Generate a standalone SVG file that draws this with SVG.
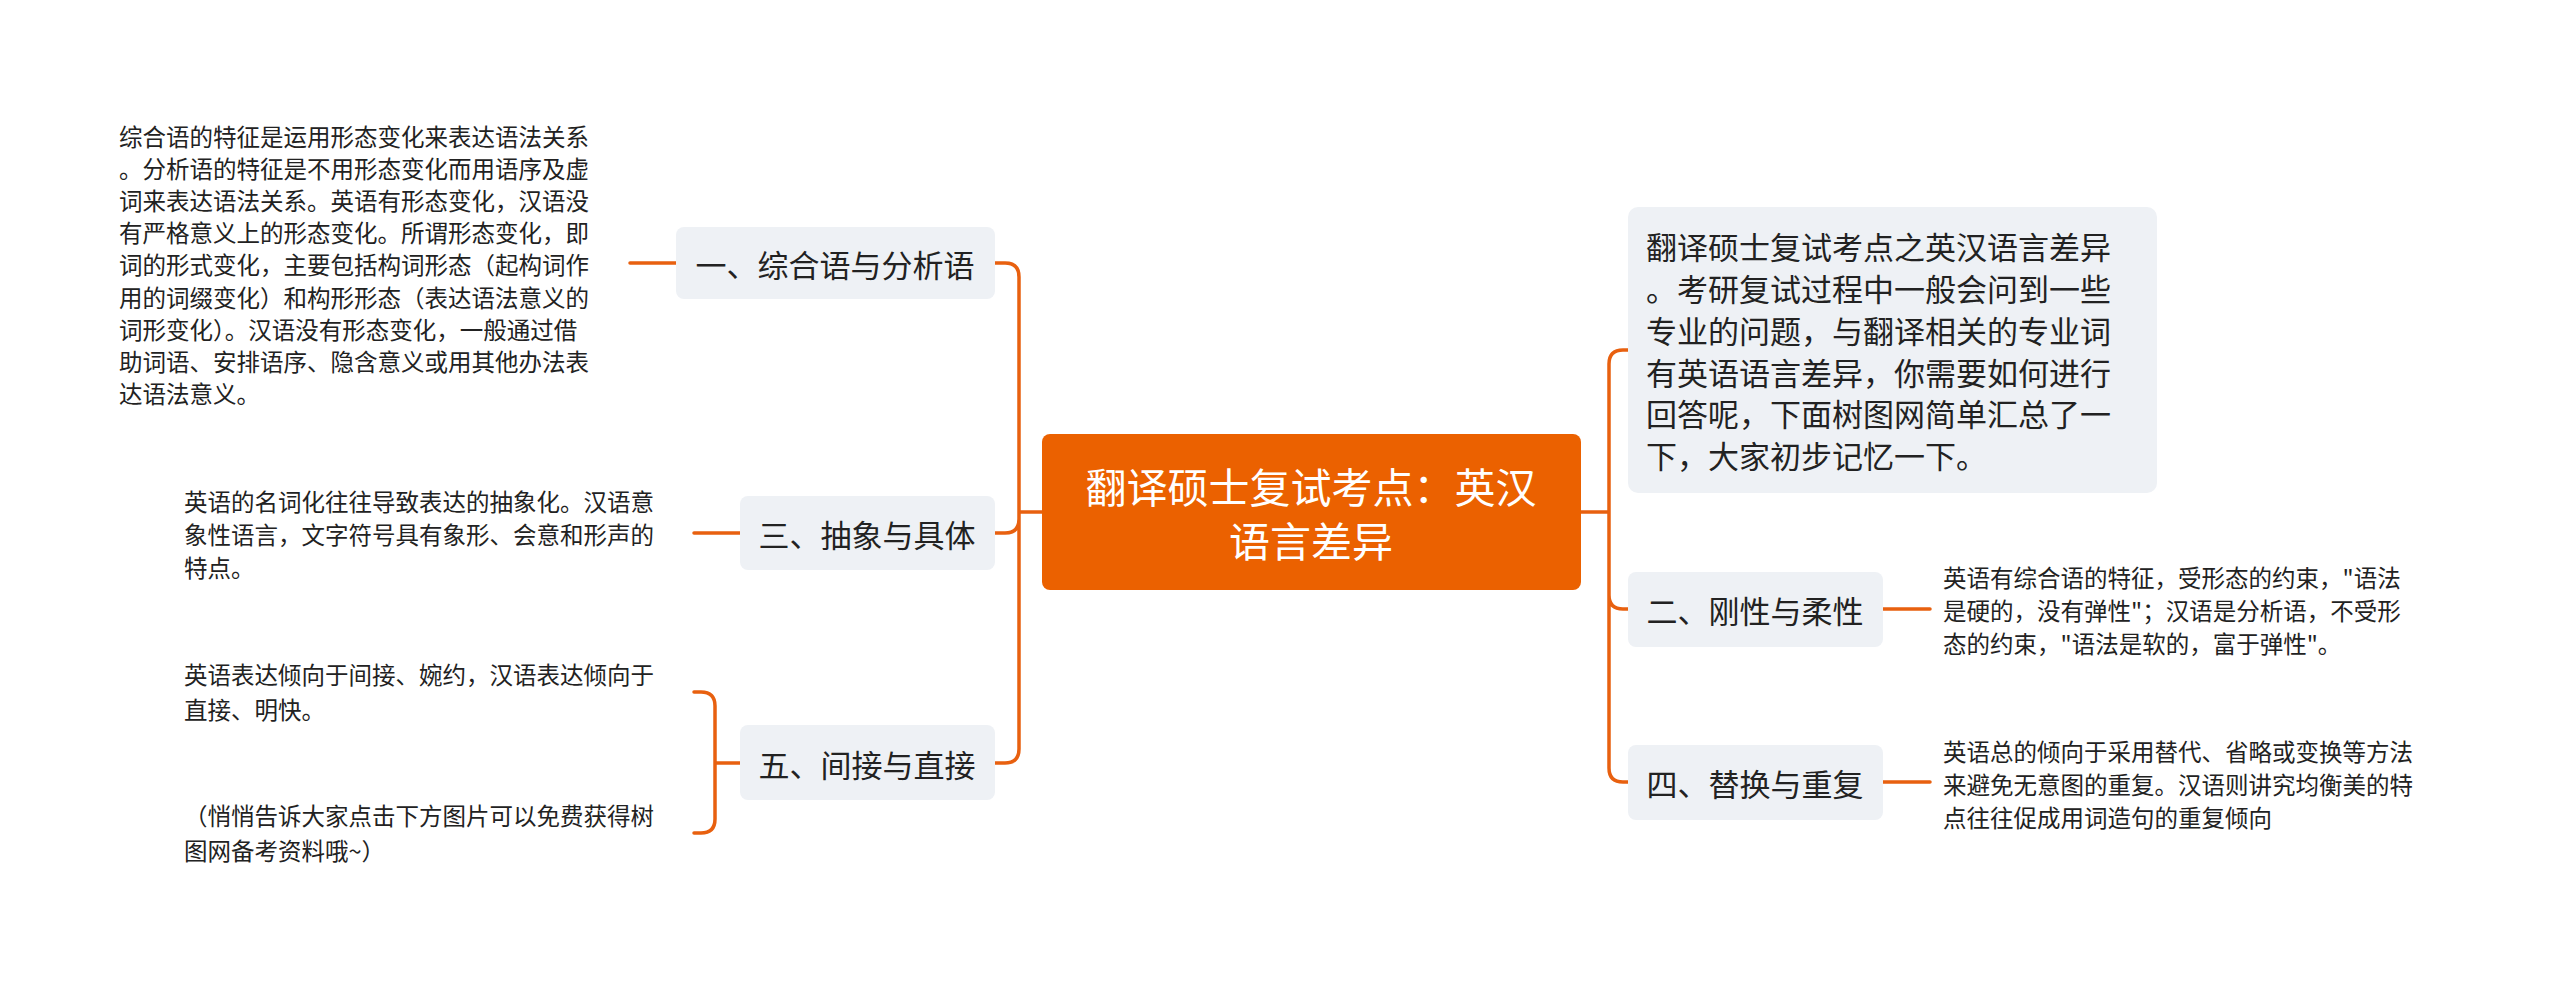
<svg xmlns="http://www.w3.org/2000/svg" width="2560" height="985" viewBox="0 0 2560 985">
<style>
.c{fill:none;stroke:#E8600F;stroke-width:3.5;stroke-linecap:round}
.n{fill:#EEF1F5}
.t{font-family:"Noto Sans CJK SC","Noto Sans",sans-serif;fill:#222}
.nt{font-size:31px;text-anchor:middle;dominant-baseline:central}
.lt{font-size:23.5px;dominant-baseline:central}
</style>
<rect width="2560" height="985" fill="#fff"/>
<g id="connectors">
<path class="c" d="M1042 512H1019M1019 512V277Q1019 263 1005 263H995M1019 512V519Q1019 533 1005 533H995M1019 512V749Q1019 763 1005 763H995"/>
<path class="c" d="M630 263H676M694 533H740M740 763H715M715 763V706Q715 692 701 692H694M715 763V819Q715 833 701 833H694"/>
<path class="c" d="M1581 512H1609M1609 512V364Q1609 350 1623 350H1628M1609 512V595Q1609 609 1623 609H1628M1609 512V768Q1609 782 1623 782H1628"/>
<path class="c" d="M1883 609H1930M1883 782H1930"/>
</g>
<g id="root">
<rect x="1042" y="434" width="539" height="156" rx="8" fill="#EB6100"/>
<text class="t" x="1311" y="485" font-size="41" fill="#fff" text-anchor="middle" dominant-baseline="central" style="fill:#fff">翻译硕士复试考点：英汉</text>
<text class="t" x="1311" y="539" font-size="41" text-anchor="middle" dominant-baseline="central" style="fill:#fff">语言差异</text>
</g>
<g id="n1"><rect class="n" x="676" y="227" width="319" height="72" rx="8"/><text class="t nt" x="835" y="263">一、综合语与分析语</text></g>
<g id="n3"><rect class="n" x="740" y="496" width="255" height="74" rx="8"/><text class="t nt" x="867" y="533">三、抽象与具体</text></g>
<g id="n5"><rect class="n" x="740" y="725" width="255" height="75" rx="8"/><text class="t nt" x="867" y="763">五、间接与直接</text></g>
<g id="n2"><rect class="n" x="1628" y="572" width="255" height="75" rx="8"/><text class="t nt" x="1755" y="609">二、刚性与柔性</text></g>
<g id="n4"><rect class="n" x="1628" y="745" width="255" height="75" rx="8"/><text class="t nt" x="1755" y="782">四、替换与重复</text></g>
<g id="intro"><rect class="n" x="1628" y="207" width="529" height="286" rx="10"/>
<text class="t" font-size="31" dominant-baseline="central">
<tspan x="1646" y="245">翻译硕士复试考点之英汉语言差异</tspan>
<tspan x="1646" y="287">。考研复试过程中一般会问到一些</tspan>
<tspan x="1646" y="329">专业的问题，与翻译相关的专业词</tspan>
<tspan x="1646" y="371">有英语语言差异，你需要如何进行</tspan>
<tspan x="1646" y="412">回答呢，下面树图网简单汇总了一</tspan>
<tspan x="1646" y="454">下，大家初步记忆一下。</tspan></text></g>
<g id="l1"><text class="t lt">
<tspan x="119" y="136">综合语的特征是运用形态变化来表达语法关系</tspan>
<tspan x="119" y="168">。分析语的特征是不用形态变化而用语序及虚</tspan>
<tspan x="119" y="200">词来表达语法关系。英语有形态变化，汉语没</tspan>
<tspan x="119" y="232">有严格意义上的形态变化。所谓形态变化，即</tspan>
<tspan x="119" y="264">词的形式变化，主要包括构词形态（起构词作</tspan>
<tspan x="119" y="297">用的词缀变化）和构形形态（表达语法意义的</tspan>
<tspan x="119" y="329">词形变化）。汉语没有形态变化，一般通过借</tspan>
<tspan x="119" y="361">助词语、安排语序、隐含意义或用其他办法表</tspan>
<tspan x="119" y="393">达语法意义。</tspan></text></g>
<g id="l3"><text class="t lt">
<tspan x="184" y="501">英语的名词化往往导致表达的抽象化。汉语意</tspan>
<tspan x="184" y="534">象性语言，文字符号具有象形、会意和形声的</tspan>
<tspan x="184" y="567">特点。</tspan></text></g>
<g id="l5a"><text class="t lt">
<tspan x="184" y="674">英语表达倾向于间接、婉约，汉语表达倾向于</tspan>
<tspan x="184" y="709">直接、明快。</tspan></text></g>
<g id="l5b"><text class="t lt">
<tspan x="184" y="815">（悄悄告诉大家点击下方图片可以免费获得树</tspan>
<tspan x="184" y="850">图网备考资料哦~）</tspan></text></g>
<g id="l2"><text class="t lt">
<tspan x="1943" y="577">英语有综合语的特征，受形态的约束，"语法</tspan>
<tspan x="1943" y="610">是硬的，没有弹性"；汉语是分析语，不受形</tspan>
<tspan x="1943" y="643">态的约束，"语法是软的，富于弹性"。</tspan></text></g>
<g id="l4"><text class="t lt">
<tspan x="1943" y="751">英语总的倾向于采用替代、省略或变换等方法</tspan>
<tspan x="1943" y="784">来避免无意图的重复。汉语则讲究均衡美的特</tspan>
<tspan x="1943" y="817">点往往促成用词造句的重复倾向</tspan></text></g>
</svg>
